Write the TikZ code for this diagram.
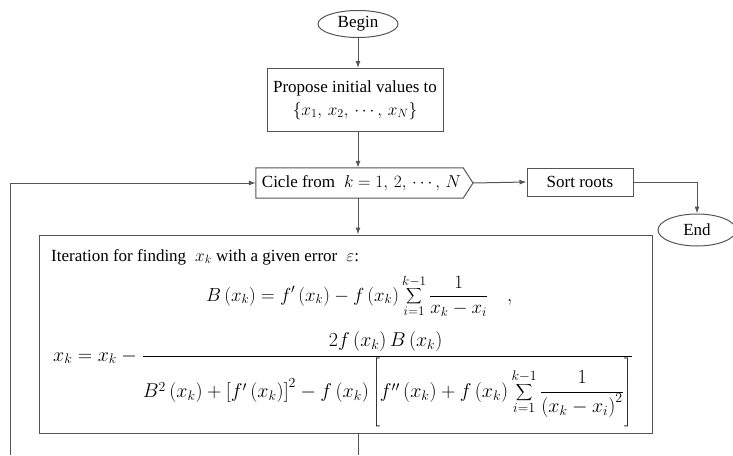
\documentclass[tikz,border=0pt]{standalone}
\usepackage{fontspec}
\setmainfont{Liberation Serif}
\usepackage{graphicx}
\usetikzlibrary{shapes.geometric,arrows.meta}
\definecolor{linec}{RGB}{85,85,85}
\newcommand{\pp}[1]{\left(#1\right)}
\begin{document}
\begin{tikzpicture}[x=1pt,y=-1pt,
  every node/.style={font=\fontsize{17}{21}\selectfont},
  ln/.style={draw=linec,line width=1pt},
  arr/.style={ln,-{Latex[length=7pt,width=5pt]}},
  ell/.style={ellipse,draw=linec,line width=1pt,inner sep=0pt},
  boxx/.style={rectangle,draw=linec,line width=1pt,inner sep=0pt,align=center},
  math/.style={inner sep=0pt}]
\useasboundingbox (0,0) rectangle (733,455);
% nodes
\node[ell,minimum width=80pt,minimum height=27pt] (begin) at (358,24) {Begin};
\node[boxx,minimum width=176pt,minimum height=63pt] (prop) at (355,100)
  {Propose initial values to\\[2pt] $\left\{x_1,\, x_2,\, \cdots,\, x_N\right\}$};
\node[rectangle,inner sep=0pt,minimum width=207pt,minimum height=30pt] (cicle) at (359.5,183)
  {\hspace*{4pt}Cicle from\; $k=1,\,2,\,\cdots,\,N$};
\coordinate (tip) at (473,183);
\draw[ln] (cicle.north west) -- (cicle.north east) -- (tip) -- (cicle.south east) -- (cicle.south west) -- cycle;
\node[boxx,minimum width=106pt,minimum height=28pt] (sort) at (580,182) {Sort roots};
\node[ell,minimum width=78pt,minimum height=32pt] (end) at (697,230) {End};
\node[boxx,minimum width=613pt,minimum height=198pt] (iter) at (345.5,334) {};
\node[math,anchor=west] (itxt) at (51,257) {Iteration for finding\; $x_k$ with a given error\; $\varepsilon$:};
\node[math,anchor=base west] (beq) at (206,301) {\resizebox{306pt}{!}{$\displaystyle B\pp{x_k}=f'\pp{x_k}-f\pp{x_k}\sum_{i=1}^{k-1}\frac{1}{x_k-x_i}\quad ,$}};
\node[math,anchor=base west] (xeq) at (53,361) {\resizebox{580pt}{!}{$\displaystyle x_k=x_k-\frac{2f\pp{x_k}B\pp{x_k}\vphantom{\rule[-7pt]{0pt}{1pt}}}{B^2\pp{x_k}+\left[f'\pp{x_k}\right]^2-f\pp{x_k}\left[\vphantom{\rule[-26pt]{0pt}{60pt}}f''\pp{x_k}+f\pp{x_k}\displaystyle\sum_{i=1}^{k-1}\frac{1}{\pp{x_k-x_i}^2}\right]}$}};
\coordinate (lb) at (10,455);
\coordinate (bb) at (358,455);
% connectors
\draw[arr] (begin.south) -- (begin.south |- prop.north);
\draw[arr] (prop.south -| begin) -- (begin |- cicle.north);
\draw[arr] (cicle.south -| begin) -- (begin |- iter.north);
\draw[arr] (tip) -- (sort.west);
\draw[arr] (sort.east) -| (end.north);
\draw[arr] (lb) |- (cicle.west);
\draw[ln] (iter.south -| bb) -- (bb);
\end{tikzpicture}
\end{document}
